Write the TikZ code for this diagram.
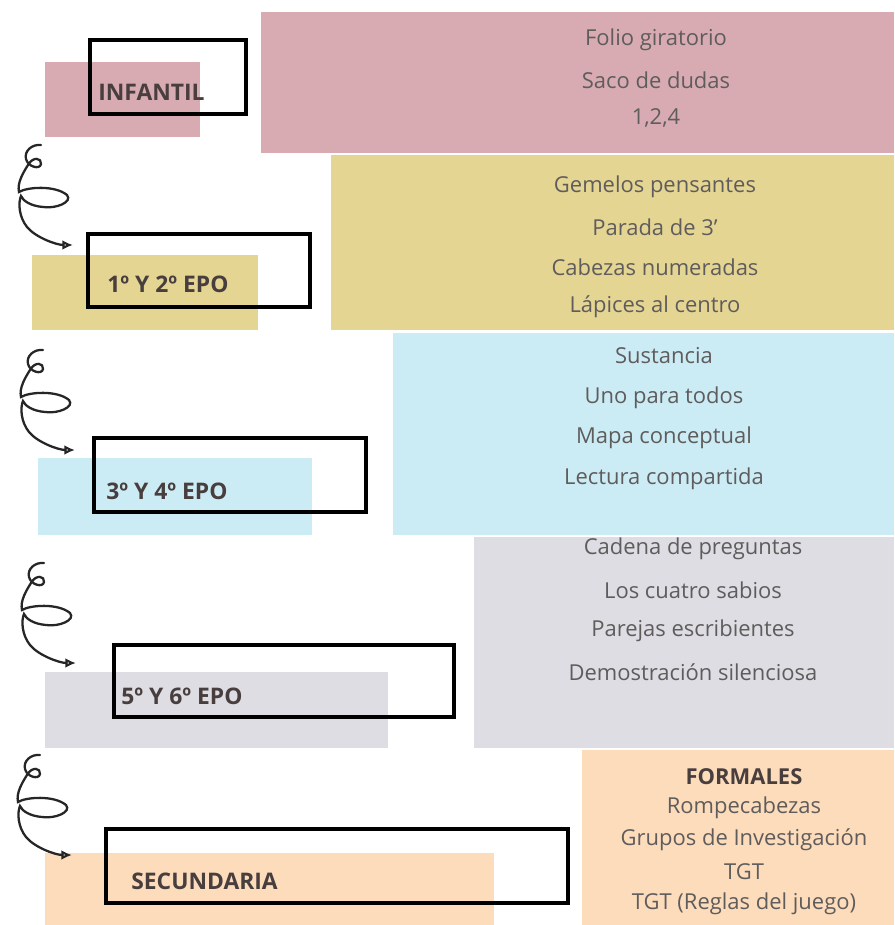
\documentclass[tikz,border=0pt]{standalone}
\usepackage{fontspec}
\setmainfont{Open Sans}
\usetikzlibrary{calc,arrows.meta}
\definecolor{mypink}{RGB}{216, 171, 178}
\definecolor{myyellow}{RGB}{229, 213, 147}
\definecolor{myblue}{RGB}{204, 236, 245}
\definecolor{mygray}{RGB}{221, 221, 227}
\definecolor{mypeach}{RGB}{253, 220, 188}
\definecolor{itemgray}{RGB}{95, 92, 92}
\definecolor{labelgray}{RGB}{72, 62, 62}
\tikzset{
  item/.style = {text = itemgray, font = \fontsize{12.5}{14}\selectfont, inner sep = 0pt},
  level/.style = {text = labelgray, font = \fontsize{13}{15}\selectfont\bfseries, anchor = west, inner sep = 0pt},
  frame/.style = {draw = black, line width = 2.2pt},
  spiralline/.style = {draw = black!85, line width = 1.3pt, line cap = round, -{Latex[open, length = 6pt, width = 5.5pt]}}
}
% curly arrow, drawn from a point 100 above its tip
\newcommand{\spiralto}[1]{%
  \draw[spiralline, shift = {($(#1)+(-32,-100)$)}]
    (0,0) .. controls (-9,-1) and (-17,6) .. (-15,14)
    .. controls (-13,22) and (-1,25) .. (0,19)
    .. controls (1,13) and (-8,11) .. (-13,20)
    .. controls (-18,28) and (-24,38) .. (-22,47)
    .. controls (-14,42) and (14,40) .. (26,50)
    .. controls (32,57) and (15,64) .. (2,62)
    .. controls (-10,61) and (-18,56) .. (-20,51)
    .. controls (-23,58) and (-22,72) .. (-14,82)
    .. controls (-6,92) and (15,100) .. (#1);}
\begin{document}
\begin{tikzpicture}[x = 0.02cm, y = -0.02cm]
\useasboundingbox (0,0) rectangle (894,925);
% colour blocks
\fill[mypink] (261,12) rectangle (894,153);
\fill[mypink] (45,62) rectangle (200,137);
\fill[myyellow] (331,155) rectangle (894,330);
\fill[myyellow] (32,255) rectangle (258,330);
\fill[myblue] (393,333) rectangle (894,535);
\fill[myblue] (38,458) rectangle (312,535);
\fill[mygray] (474,537) rectangle (894,748);
\fill[mygray] (45,672) rectangle (388,748);
\fill[mypeach] (582,750) rectangle (894,925);
\fill[mypeach] (45,853) rectangle (494,925);
% frames
\draw[frame] (90,40) rectangle (246,114);
\draw[frame] (88,234) rectangle (310,307);
\draw[frame] (94,438) rectangle (366,512);
\draw[frame] (114,645) rectangle (454,717);
\draw[frame] (106,829) rectangle (568,903);
% levels
\node[level] (infantil) at (98,92) {INFANTIL};
\node[level] (epo12) at (107,284) {1º Y 2º EPO};
\node[level] (epo34) at (106,491) {3º Y 4º EPO};
\node[level] (epo56) at (121,696) {5º Y 6º EPO};
\node[level] (secundaria) at (131,881) {SECUNDARIA};
% techniques
\node[item] (folio) at (656,40) {Folio giratorio};
\node[item] (saco) at (656,80) {Saco de dudas};
\node[item] (uno) at (656,118) {1,2,4};
\node[item] (gemelos) at (655,187) {Gemelos pensantes};
\node[item] (parada) at (655,227) {Parada de 3'};
\node[item] (cabezas) at (655,267) {Cabezas numeradas};
\node[item] (lapices) at (655,307) {Lápices al centro};
\node[item] (sustancia) at (664,356) {Sustancia};
\node[item] (unotodos) at (664,398) {Uno para todos};
\node[item] (mapa) at (664,438) {Mapa conceptual};
\node[item] (lectura) at (664,479) {Lectura compartida};
\node[item] (cadena) at (693,549) {Cadena de preguntas};
\node[item] (sabios) at (693,590) {Los cuatro sabios};
\node[item] (parejas) at (693,631) {Parejas escribientes};
\node[item] (demo) at (693,672) {Demostración silenciosa};
\node[item, font = \fontsize{12.5}{14}\selectfont\bfseries, text = labelgray] (formales) at (744,777) {FORMALES};
\node[item] (rompe) at (744,808) {Rompecabezas};
\node[item] (grupos) at (744,840) {Grupos de Investigación};
\node[item] (tgt) at (744,872) {TGT};
\node[item] (tgtreglas) at (744,904) {TGT (Reglas del juego)};
% spirals
\coordinate (tip1) at (73,245);
\coordinate (tip2) at (75,450);
\coordinate (tip3) at (76,663);
\coordinate (tip4) at (72,855);
\spiralto{tip1}
\spiralto{tip2}
\spiralto{tip3}
\spiralto{tip4}
\end{tikzpicture}
\end{document}
